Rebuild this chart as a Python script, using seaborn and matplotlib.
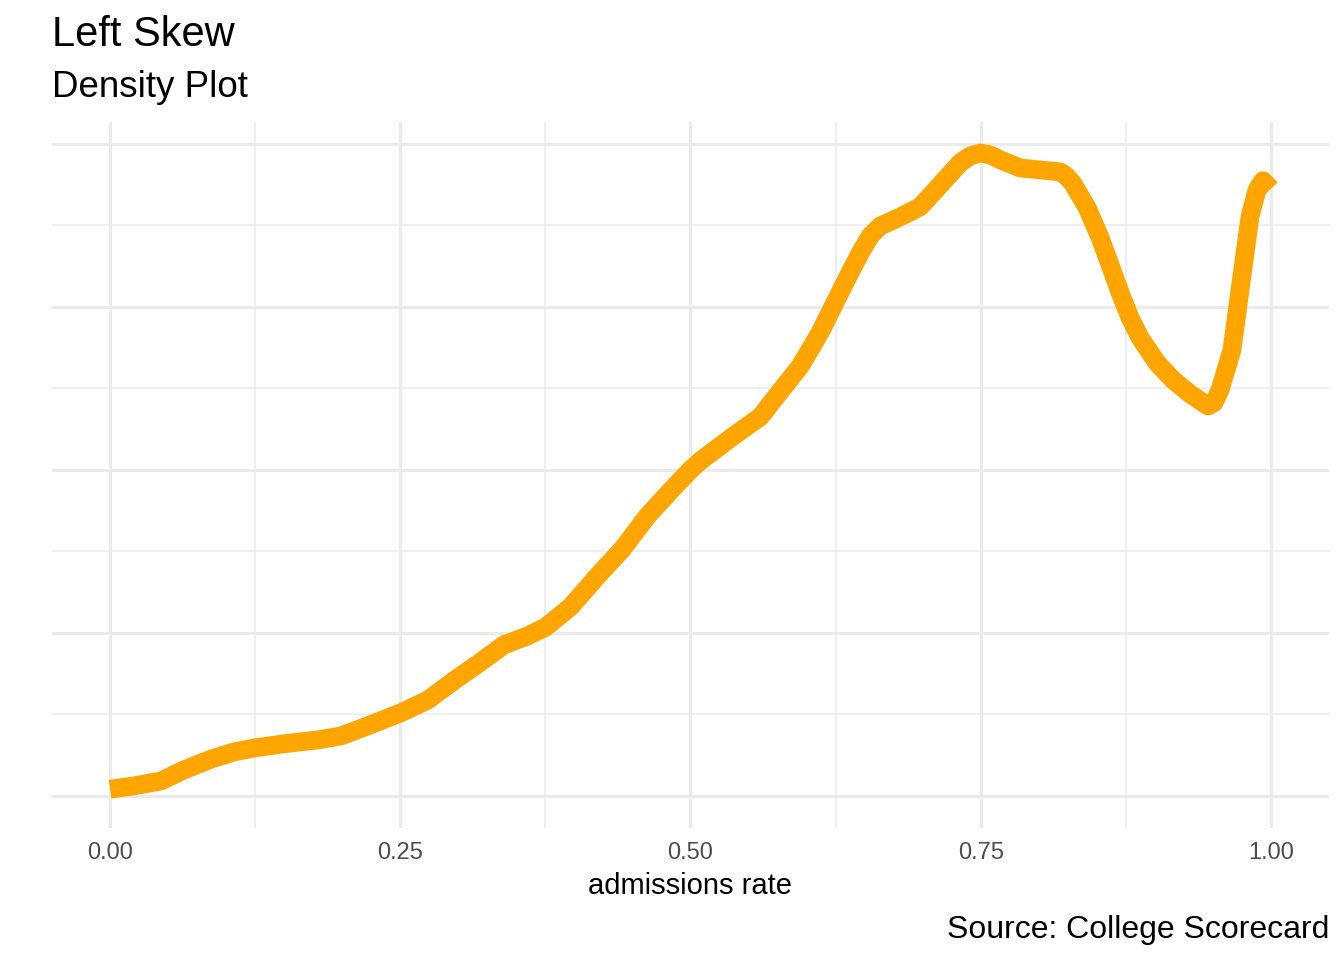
import numpy as np
import pandas as pd
import matplotlib
matplotlib.use("Agg")
import matplotlib.pyplot as plt
import seaborn as sns
from matplotlib.ticker import MultipleLocator

# values
admission_rate = [0.0000, 0.0207, 0.0439, 0.0637, 0.0869, 0.1067, 0.1239, 0.1497,
                  0.1790, 0.1988, 0.2220, 0.2504, 0.2737, 0.2960, 0.3193, 0.3391,
                  0.3597, 0.3752, 0.3967, 0.4200, 0.4415, 0.4630, 0.4828, 0.5000,
                  0.5086, 0.5258, 0.5370, 0.5602, 0.5775, 0.5947, 0.6119, 0.6222,
                  0.6334, 0.6463, 0.6549, 0.6635, 0.6807, 0.6979, 0.7151, 0.7324,
                  0.7410, 0.7496, 0.7582, 0.7668, 0.7840, 0.8012, 0.8184, 0.8236,
                  0.8296, 0.8417, 0.8528, 0.8614, 0.8701, 0.8787, 0.8873, 0.9019,
                  0.9157, 0.9303, 0.9458, 0.9509, 0.9561, 0.9664, 0.9742, 0.9819,
                  0.9880, 0.9931, 1.0000]
density = [0.021, 0.031, 0.046, 0.080, 0.113, 0.135, 0.147, 0.160,
           0.172, 0.184, 0.215, 0.255, 0.294, 0.353, 0.411, 0.463,
           0.491, 0.518, 0.580, 0.675, 0.758, 0.859, 0.936, 1.000,
           1.028, 1.074, 1.104, 1.163, 1.242, 1.319, 1.423, 1.497,
           1.577, 1.666, 1.718, 1.748, 1.776, 1.807, 1.874, 1.942,
           1.963, 1.972, 1.966, 1.951, 1.926, 1.920, 1.914, 1.902,
           1.877, 1.804, 1.712, 1.629, 1.543, 1.466, 1.405, 1.328,
           1.276, 1.233, 1.196, 1.206, 1.245, 1.368, 1.574, 1.776,
           1.859, 1.887, 1.862]

x_ticks = [0.0, 0.25, 0.5, 0.75, 1.0]
x_tick_labels = ["0.00", "0.25", "0.50", "0.75", "1.00"]

title = "Left Skew"
subtitle = "Density Plot"
x_title = "admissions rate"
caption = "Source: College Scorecard"

sns.set_theme(style="white")
plt.rcParams['font.family'] = ['Liberation Sans', 'DejaVu Sans']

W, H = 1344, 960
fig = plt.figure(figsize=(W / 100, H / 100), dpi=100)
ax = fig.add_axes([52 / W, 1 - 828 / H, (1329 - 52) / W, (828 - 122) / H])
ax.set_axisbelow(True)

df = pd.DataFrame({"admissions rate": admission_rate, "density": density})
sns.lineplot(data=df, x="admissions rate", y="density", ax=ax, color="#FFA500",
             linewidth=13.5, sort=False, solid_capstyle="butt",
             solid_joinstyle="round")

ax.set_xlim(-0.05, 1.05)
ax.set_ylim(-0.0982, 2.067)
ax.set_xticks(x_ticks)
ax.set_xticklabels(x_tick_labels)
ax.xaxis.set_minor_locator(MultipleLocator(0.125))
ax.yaxis.set_major_locator(MultipleLocator(0.5))
ax.yaxis.set_minor_locator(MultipleLocator(0.25))
ax.grid(which='major', color='#EBEBEB', linewidth=2.1)
ax.grid(which='minor', color='#EBEBEB', linewidth=1.1)
ax.tick_params(axis='y', which='both', length=0, labelleft=False)
ax.tick_params(axis='x', which='both', length=0, pad=10, labelsize=17,
               labelcolor='#4D4D4D')
for s in ax.spines.values():
    s.set_visible(False)
ax.set_xlabel("")
ax.set_ylabel("")

fig.text(690.5 / W, 1 - 894 / H, x_title, ha='center', va='baseline',
         fontsize=21, color='black')
fig.text(52 / W, 1 - 46 / H, title, fontsize=30, va='baseline', color='black')
fig.text(52 / W, 1 - 97 / H, subtitle, fontsize=26.5, va='baseline', color='black')
fig.text(1329 / W, 1 - 938 / H, caption, ha='right', va='baseline',
         fontsize=23, color='black')

fig.savefig("out.png", dpi=100)
